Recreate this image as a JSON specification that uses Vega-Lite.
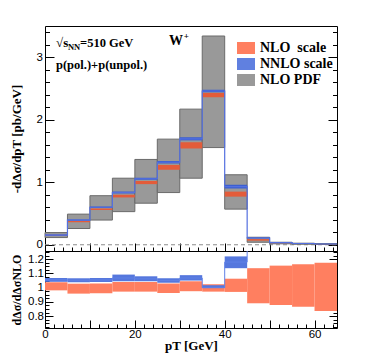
{
  "$schema": "https://vega.github.io/schema/vega-lite/v6.json",
  "padding": {"left": 9, "top": 25, "right": 10, "bottom": 0},
  "spacing": 0,
  "bounds": "flush",
  "config": {
    "view": {"stroke": "#000", "strokeWidth": 1},
    "font": "Liberation Sans",
    "axis": {"labelFont": "Liberation Sans", "labelFontSize": 11.5, "labelColor": "#000", "tickColor": "#000", "tickWidth": 1, "domain": false, "grid": false, "titleFont": "Liberation Serif", "titleFontWeight": "bold", "titleFontSize": 13, "titleColor": "#000", "labelOverlap": false, "labelFlush": false, "labelBound": false}
  },
  "datasets": {
    "bins": [
      {"x0": 0, "x1": 5, "pdf_lo": 0.115, "pdf_hi": 0.195, "nlo_lo": 0.14, "nlo_hi": 0.16, "nnlo_lo": 0.146, "nnlo_hi": 0.164},
      {"x0": 5, "x1": 10, "pdf_lo": 0.26, "pdf_hi": 0.49, "nlo_lo": 0.36, "nlo_hi": 0.385, "nnlo_lo": 0.385, "nnlo_hi": 0.405},
      {"x0": 10, "x1": 15, "pdf_lo": 0.395, "pdf_hi": 0.785, "nlo_lo": 0.555, "nlo_hi": 0.58, "nnlo_lo": 0.59, "nnlo_hi": 0.612},
      {"x0": 15, "x1": 20, "pdf_lo": 0.53, "pdf_hi": 1.065, "nlo_lo": 0.757, "nlo_hi": 0.8, "nnlo_lo": 0.82, "nnlo_hi": 0.852},
      {"x0": 20, "x1": 25, "pdf_lo": 0.665, "pdf_hi": 1.365, "nlo_lo": 0.97, "nlo_hi": 1.02, "nnlo_lo": 1.04, "nnlo_hi": 1.072},
      {"x0": 25, "x1": 30, "pdf_lo": 0.835, "pdf_hi": 1.69, "nlo_lo": 1.2, "nlo_hi": 1.275, "nnlo_lo": 1.3, "nnlo_hi": 1.34},
      {"x0": 30, "x1": 35, "pdf_lo": 1.065, "pdf_hi": 2.17, "nlo_lo": 1.54, "nlo_hi": 1.64, "nnlo_lo": 1.67, "nnlo_hi": 1.72},
      {"x0": 35, "x1": 40, "pdf_lo": 1.555, "pdf_hi": 3.34, "nlo_lo": 2.36, "nlo_hi": 2.43, "nnlo_lo": 2.44, "nnlo_hi": 2.48},
      {"x0": 40, "x1": 45, "pdf_lo": 0.57, "pdf_hi": 1.12, "nlo_lo": 0.77, "nlo_hi": 0.85, "nnlo_lo": 0.9, "nnlo_hi": 0.96},
      {"x0": 45, "x1": 50, "pdf_lo": 0.04, "pdf_hi": 0.12, "nlo_lo": 0.065, "nlo_hi": 0.09, "nnlo_lo": 0.1, "nnlo_hi": 0.117},
      {"x0": 50, "x1": 55, "pdf_lo": 0.015, "pdf_hi": 0.04, "nlo_lo": 0.025, "nlo_hi": 0.032, "nnlo_lo": 0.03, "nnlo_hi": 0.037},
      {"x0": 55, "x1": 60, "pdf_lo": 0.008, "pdf_hi": 0.025, "nlo_lo": 0.015, "nlo_hi": 0.02, "nnlo_lo": 0.018, "nnlo_hi": 0.022},
      {"x0": 60, "x1": 65, "pdf_lo": 0.005, "pdf_hi": 0.018, "nlo_lo": 0.009, "nlo_hi": 0.012, "nnlo_lo": 0.011, "nnlo_hi": 0.014}
    ],
    "nnloline": [
      {"x": 0, "y": 0.155}, {"x": 5, "y": 0.395}, {"x": 10, "y": 0.6}, {"x": 15, "y": 0.836},
      {"x": 20, "y": 1.056}, {"x": 25, "y": 1.32}, {"x": 30, "y": 1.695}, {"x": 35, "y": 2.46},
      {"x": 40, "y": 0.93}, {"x": 45, "y": 0.108}, {"x": 50, "y": 0.034}, {"x": 55, "y": 0.02},
      {"x": 60, "y": 0.012}, {"x": 65, "y": 0.012}
    ],
    "ratio": [
      {"x0": 0, "x1": 5, "nlo_lo": 0.981, "nlo_hi": 1.038, "nnlo_lo": 1.041, "nnlo_hi": 1.068},
      {"x0": 5, "x1": 10, "nlo_lo": 0.958, "nlo_hi": 1.028, "nnlo_lo": 1.038, "nnlo_hi": 1.066},
      {"x0": 10, "x1": 15, "nlo_lo": 0.96, "nlo_hi": 1.03, "nnlo_lo": 1.04, "nnlo_hi": 1.068},
      {"x0": 15, "x1": 20, "nlo_lo": 0.972, "nlo_hi": 1.04, "nnlo_lo": 1.045, "nnlo_hi": 1.092},
      {"x0": 20, "x1": 25, "nlo_lo": 0.972, "nlo_hi": 1.04, "nnlo_lo": 1.045, "nnlo_hi": 1.08},
      {"x0": 25, "x1": 30, "nlo_lo": 0.962, "nlo_hi": 1.03, "nnlo_lo": 1.035, "nnlo_hi": 1.066},
      {"x0": 30, "x1": 35, "nlo_lo": 0.975, "nlo_hi": 1.045, "nnlo_lo": 1.05, "nnlo_hi": 1.088},
      {"x0": 35, "x1": 40, "nlo_lo": 0.972, "nlo_hi": 1.024, "nnlo_lo": 0.997, "nnlo_hi": 1.017},
      {"x0": 40, "x1": 45, "nlo_lo": 0.97, "nlo_hi": 1.063, "nnlo_lo": 1.137, "nnlo_hi": 1.22},
      {"x0": 45, "x1": 50, "nlo_lo": 0.89, "nlo_hi": 1.137},
      {"x0": 50, "x1": 55, "nlo_lo": 0.878, "nlo_hi": 1.155},
      {"x0": 55, "x1": 60, "nlo_lo": 0.866, "nlo_hi": 1.165},
      {"x0": 60, "x1": 65, "nlo_lo": 0.836, "nlo_hi": 1.176}
    ],
    "ratioline": [
      {"x": 0, "y": 1.055}, {"x": 5, "y": 1.052}, {"x": 10, "y": 1.054}, {"x": 15, "y": 1.068},
      {"x": 20, "y": 1.062}, {"x": 25, "y": 1.05}, {"x": 30, "y": 1.068}, {"x": 35, "y": 1.0},
      {"x": 40, "y": 1.18}, {"x": 45, "y": 1.6}
    ],
    "zeroline": [{"x": 0, "y": 0}, {"x": 65, "y": 0}],
    "legend": [{"band": "NLO\u00a0 scale"}, {"band": "NNLO scale"}, {"band": "NLO PDF"}]
  },
  "vconcat": [
    {
      "width": 292,
      "height": 225,
      "data": {"name": "bins"},
      "resolve": {"axis": {"x": "independent", "y": "independent"}},
      "layer": [
        {
          "data": {"name": "zeroline"},
          "mark": {"type": "line", "stroke": "#8c8c8c", "strokeDash": [4, 3], "strokeWidth": 1},
          "encoding": {
            "x": {"field": "x", "type": "quantitative", "scale": {"domain": [0, 65], "nice": false, "zero": false}, "axis": null},
            "y": {"field": "y", "type": "quantitative", "scale": {"domain": [-0.1, 3.5], "nice": false, "zero": false}, "axis": null}
          }
        },
        {
          "mark": {"type": "rect", "fill": "#999999", "stroke": "#6a6a6a", "strokeWidth": 1},
          "encoding": {
            "x": {"field": "x0", "type": "quantitative", "scale": {"domain": [0, 65], "nice": false, "zero": false},
              "axis": {"orient": "bottom", "title": null, "labels": false, "values": [0,2,4,6,8,10,12,14,16,18,20,22,24,26,28,30,32,34,36,38,40,42,44,46,48,50,52,54,56,58,60,62,64],
                "tickSize": {"condition": {"test": "datum.value % 10 === 0", "value": -8}, "value": -4}}},
            "x2": {"field": "x1"},
            "y": {"field": "pdf_lo", "type": "quantitative", "scale": {"domain": [-0.1, 3.5], "nice": false, "zero": false},
              "axis": {"orient": "left", "title": "-dΔσ/dpT [pb/GeV]", "values": [0, 1, 2, 3], "format": "d", "ticks": false, "labelOverlap": false, "labelBound": false,
                "labelPadding": 2.5, "titleX": -29, "titleY": 112.5, "titleBaseline": "middle", "titleAngle": -90}},
            "y2": {"field": "pdf_hi"}
          }
        },
        {
          "mark": {"type": "rect", "fill": "#E35C3A"},
          "encoding": {
            "x": {"field": "x0", "type": "quantitative", "scale": {"domain": [0, 65], "nice": false, "zero": false}, "axis": null},
            "x2": {"field": "x1"},
            "y": {"field": "nlo_lo", "type": "quantitative", "scale": {"domain": [-0.1, 3.5], "nice": false, "zero": false},
              "axis": {"orient": "left", "title": null, "labels": false, "values": [0,0.2,0.4,0.6,0.8,1,1.2,1.4,1.6,1.8,2,2.2,2.4,2.6,2.8,3,3.2,3.4],
                "tickSize": {"condition": {"test": "abs(datum.value - round(datum.value)) < 0.001", "value": -9}, "value": -4.5}}},
            "y2": {"field": "nlo_hi"}
          }
        },
        {
          "mark": {"type": "rect", "fill": "#3B5FD2"},
          "encoding": {
            "x": {"field": "x0", "type": "quantitative", "scale": {"domain": [0, 65], "nice": false, "zero": false}, "axis": null},
            "x2": {"field": "x1"},
            "y": {"field": "nnlo_lo", "type": "quantitative", "scale": {"domain": [-0.1, 3.5], "nice": false, "zero": false},
              "axis": {"orient": "right", "title": null, "labels": false, "values": [0,0.2,0.4,0.6,0.8,1,1.2,1.4,1.6,1.8,2,2.2,2.4,2.6,2.8,3,3.2,3.4],
                "tickSize": {"condition": {"test": "abs(datum.value - round(datum.value)) < 0.001", "value": -9}, "value": -4.5}}},
            "y2": {"field": "nnlo_hi"}
          }
        },
        {
          "data": {"name": "nnloline"},
          "mark": {"type": "line", "interpolate": "step-after", "color": "#5470E0", "strokeWidth": 1.2},
          "encoding": {
            "x": {"field": "x", "type": "quantitative", "scale": {"domain": [0, 65], "nice": false, "zero": false}, "axis": null},
            "y": {"field": "y", "type": "quantitative", "scale": {"domain": [-0.1, 3.5], "nice": false, "zero": false}, "axis": null}
          }
        },
        {
          "data": {"values": [{}]},
          "mark": {"type": "text", "align": "left", "baseline": "alphabetic", "font": "Liberation Serif", "fontWeight": "bold", "fontSize": 13, "color": "#000"},
          "encoding": {
            "x": {"datum": 2.45, "scale": {"domain": [0, 65], "nice": false, "zero": false}, "axis": null},
            "y": {"datum": 3.16, "scale": {"domain": [-0.1, 3.5], "nice": false, "zero": false}, "axis": null},
            "text": {"value": "√s"}
          }
        },
        {
          "data": {"values": [{}]},
          "mark": {"type": "text", "align": "left", "baseline": "alphabetic", "font": "Liberation Serif", "fontWeight": "bold", "fontSize": 8.5, "color": "#000"},
          "encoding": {
            "x": {"datum": 5.1, "scale": {"domain": [0, 65], "nice": false, "zero": false}, "axis": null},
            "y": {"datum": 3.115, "scale": {"domain": [-0.1, 3.5], "nice": false, "zero": false}, "axis": null},
            "text": {"value": "NN"}
          }
        },
        {
          "data": {"values": [{}]},
          "mark": {"type": "text", "align": "left", "baseline": "alphabetic", "font": "Liberation Serif", "fontWeight": "bold", "fontSize": 12.5, "color": "#000"},
          "encoding": {
            "x": {"datum": 7.8, "scale": {"domain": [0, 65], "nice": false, "zero": false}, "axis": null},
            "y": {"datum": 3.16, "scale": {"domain": [-0.1, 3.5], "nice": false, "zero": false}, "axis": null},
            "text": {"value": "=510 GeV"}
          }
        },
        {
          "data": {"values": [{}]},
          "mark": {"type": "text", "align": "left", "baseline": "alphabetic", "font": "Liberation Serif", "fontWeight": "bold", "fontSize": 14, "color": "#000"},
          "encoding": {
            "x": {"datum": 27.6, "scale": {"domain": [0, 65], "nice": false, "zero": false}, "axis": null},
            "y": {"datum": 3.2, "scale": {"domain": [-0.1, 3.5], "nice": false, "zero": false}, "axis": null},
            "text": {"value": "W"}
          }
        },
        {
          "data": {"values": [{}]},
          "mark": {"type": "text", "align": "left", "baseline": "alphabetic", "font": "Liberation Serif", "fontWeight": "bold", "fontSize": 9, "color": "#000"},
          "encoding": {
            "x": {"datum": 30.9, "scale": {"domain": [0, 65], "nice": false, "zero": false}, "axis": null},
            "y": {"datum": 3.3, "scale": {"domain": [-0.1, 3.5], "nice": false, "zero": false}, "axis": null},
            "text": {"value": "+"}
          }
        },
        {
          "data": {"values": [{}]},
          "mark": {"type": "text", "align": "left", "baseline": "alphabetic", "font": "Liberation Serif", "fontWeight": "bold", "fontSize": 12.5, "color": "#000"},
          "encoding": {
            "x": {"datum": 2.45, "scale": {"domain": [0, 65], "nice": false, "zero": false}, "axis": null},
            "y": {"datum": 2.805, "scale": {"domain": [-0.1, 3.5], "nice": false, "zero": false}, "axis": null},
            "text": {"value": "p(pol.)+p(unpol.)"}
          }
        },
        {
          "data": {"name": "legend"},
          "mark": {"type": "point", "opacity": 0, "filled": true},
          "encoding": {
            "color": {"field": "band", "type": "nominal",
              "scale": {"domain": ["NLO\u00a0 scale", "NNLO scale", "NLO PDF"], "range": ["#FF7F60", "#6080E0", "#999999"]},
              "legend": {"orient": "none", "legendX": 192, "legendY": 13, "title": null,
                "symbolType": "M-1,-0.667L1,-0.667L1,0.667L-1,0.667Z", "symbolSize": 324, "symbolOpacity": 1, "symbolStrokeWidth": 0,
                "labelFont": "Liberation Serif", "labelFontWeight": "bold", "labelFontSize": 14, "labelColor": "#000",
                "labelOffset": 5, "rowPadding": 0, "padding": 0}}
          }
        }
      ]
    },
    {
      "width": 292,
      "height": 77,
      "data": {"name": "ratio"},
      "resolve": {"axis": {"x": "independent", "y": "independent"}},
      "layer": [
        {
          "mark": {"type": "rect", "fill": "#FF7F60", "clip": true},
          "encoding": {
            "x": {"field": "x0", "type": "quantitative", "scale": {"domain": [0, 65], "nice": false, "zero": false},
              "axis": {"orient": "bottom", "title": "pT [GeV]", "values": [0, 20, 40, 60], "format": "d", "ticks": false, "labelOverlap": false, "labelBound": false,
                "labelPadding": 0, "titleY": 21, "titleBaseline": "alphabetic"}},
            "x2": {"field": "x1"},
            "y": {"field": "nlo_lo", "type": "quantitative", "scale": {"domain": [0.716, 1.258], "nice": false, "zero": false},
              "axis": {"orient": "left", "title": "dΔσ/dΔσNLO", "values": [0.8, 0.9, 1, 1.1, 1.2], "format": ".1~f", "ticks": false, "labelOverlap": false, "labelBound": false,
                "labelPadding": 1.5, "titleX": -29, "titleY": 38.5, "titleBaseline": "middle", "titleAngle": -90, "titleFontSize": 12}},
            "y2": {"field": "nlo_hi"}
          }
        },
        {
          "mark": {"type": "rect", "fill": "#5577DD", "clip": true},
          "encoding": {
            "x": {"field": "x0", "type": "quantitative", "scale": {"domain": [0, 65], "nice": false, "zero": false},
              "axis": {"orient": "bottom", "title": null, "labels": false, "values": [0,2,4,6,8,10,12,14,16,18,20,22,24,26,28,30,32,34,36,38,40,42,44,46,48,50,52,54,56,58,60,62,64],
                "tickSize": {"condition": {"test": "datum.value % 10 === 0", "value": -8}, "value": -4}}},
            "x2": {"field": "x1"},
            "y": {"field": "nnlo_lo", "type": "quantitative", "scale": {"domain": [0.716, 1.258], "nice": false, "zero": false},
              "axis": {"orient": "left", "title": null, "labels": false, "values": [0.725,0.75,0.775,0.8,0.825,0.85,0.875,0.9,0.925,0.95,0.975,1,1.025,1.05,1.075,1.1,1.125,1.15,1.175,1.2,1.225,1.25],
                "tickSize": {"condition": {"test": "abs(datum.value*10 - round(datum.value*10)) < 0.001", "value": -8}, "value": -4}}},
            "y2": {"field": "nnlo_hi"}
          }
        },
        {
          "data": {"name": "ratioline"},
          "mark": {"type": "line", "interpolate": "step-after", "color": "#5F80E6", "strokeWidth": 1, "clip": true},
          "encoding": {
            "x": {"field": "x", "type": "quantitative", "scale": {"domain": [0, 65], "nice": false, "zero": false}, "axis": null},
            "y": {"field": "y", "type": "quantitative", "scale": {"domain": [0.716, 1.258], "nice": false, "zero": false},
              "axis": {"orient": "right", "title": null, "labels": false, "values": [0.725,0.75,0.775,0.8,0.825,0.85,0.875,0.9,0.925,0.95,0.975,1,1.025,1.05,1.075,1.1,1.125,1.15,1.175,1.2,1.225,1.25],
                "tickSize": {"condition": {"test": "abs(datum.value*10 - round(datum.value*10)) < 0.001", "value": -8}, "value": -4}}}
          }
        }
      ]
    }
  ]
}
